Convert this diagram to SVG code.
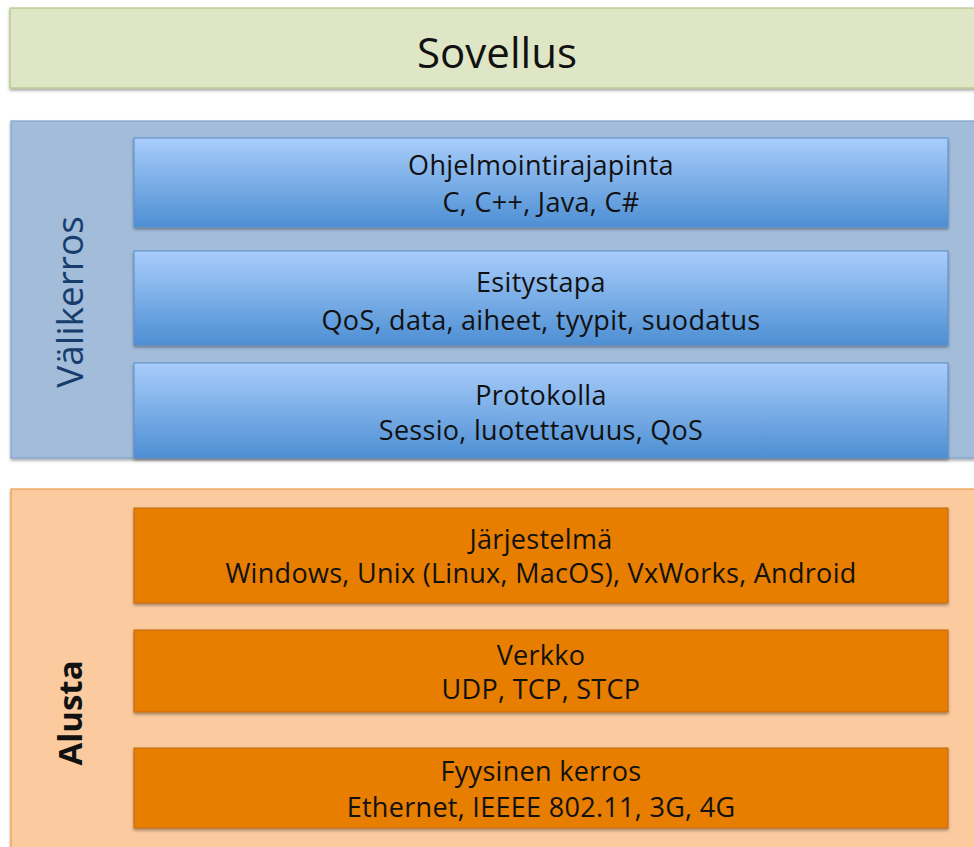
<svg xmlns="http://www.w3.org/2000/svg" width="974" height="847" viewBox="0 0 974 847">
  <defs>
    <linearGradient id="blueGrad" x1="0" y1="0" x2="0" y2="1">
      <stop offset="0" stop-color="#a9cdfb"/>
      <stop offset="1" stop-color="#4d8fd3"/>
    </linearGradient>
    <filter id="shadow" x="-5%" y="-20%" width="110%" height="150%">
      <feDropShadow dx="0" dy="2" stdDeviation="1.5" flood-color="#000" flood-opacity="0.35"/>
    </filter>
    <style>
      text { font-family: "Open Sans", "Noto Sans", sans-serif; fill: #111; text-anchor: middle; }
      .lbl { font-size: 27px; letter-spacing: 0.3px; }
      .app { fill: #dfe6c5; stroke: #b3c78c; stroke-width: 1.2; }
      .mid { fill: #a2bcda; stroke: #7ea2cb; stroke-width: 1.2; }
      .plat { fill: #fbcb9f; stroke: #ee9a4c; stroke-width: 1.2; }
      .blue { fill: url(#blueGrad); stroke: #5a8cc6; stroke-width: 1; }
      .orange { fill: #e77e06; stroke: #c2670a; stroke-width: 1; }
    </style>
  </defs>

  <!-- application layer -->
  <g id="sovellus">
    <rect class="app" x="10" y="8" width="980" height="80" filter="url(#shadow)"/>
    <text x="497" y="68" font-size="42">Sovellus</text>
  </g>

  <!-- middleware container -->
  <g id="valikerros">
    <rect class="mid" x="11" y="121" width="980" height="337" filter="url(#shadow)"/>
    <text transform="translate(70 302) rotate(-90)" y="13" font-size="37" style="fill:#163d6b">Välikerros</text>
  </g>

  <g id="ohjelmointirajapinta">
    <rect class="blue" x="134" y="138" width="814" height="89" filter="url(#shadow)"/>
    <text class="lbl" x="541" y="175">Ohjelmointirajapinta</text>
    <text class="lbl" x="541" y="212">C, C++, Java, C#</text>
  </g>

  <g id="esitystapa">
    <rect class="blue" x="134" y="251" width="814" height="94" filter="url(#shadow)"/>
    <text class="lbl" x="541" y="292">Esitystapa</text>
    <text class="lbl" x="541" y="330">QoS, data, aiheet, tyypit, suodatus</text>
  </g>

  <g id="protokolla">
    <rect class="blue" x="134" y="363" width="814" height="95" filter="url(#shadow)"/>
    <text class="lbl" x="541" y="405">Protokolla</text>
    <text class="lbl" x="541" y="440">Sessio, luotettavuus, QoS</text>
  </g>

  <!-- platform container -->
  <g id="alusta">
    <rect class="plat" x="11" y="489" width="980" height="380" filter="url(#shadow)"/>
    <text transform="translate(70 713) rotate(-90)" y="12" font-size="33" font-weight="bold">Alusta</text>
  </g>

  <g id="jarjestelma">
    <rect class="orange" x="134" y="508" width="814" height="95" filter="url(#shadow)"/>
    <text class="lbl" x="541" y="549">Järjestelmä</text>
    <text class="lbl" x="541" y="583">Windows, Unix (Linux, MacOS), VxWorks, Android</text>
  </g>

  <g id="verkko">
    <rect class="orange" x="134" y="630" width="814" height="82" filter="url(#shadow)"/>
    <text class="lbl" x="541" y="665">Verkko</text>
    <text class="lbl" x="541" y="699">UDP, TCP, STCP</text>
  </g>

  <g id="fyysinen">
    <rect class="orange" x="134" y="748" width="814" height="80" filter="url(#shadow)"/>
    <text class="lbl" x="541" y="781">Fyysinen kerros</text>
    <text class="lbl" x="541" y="817">Ethernet, IEEEE 802.11, 3G, 4G</text>
  </g>

  <g id="connectors"/>
</svg>
